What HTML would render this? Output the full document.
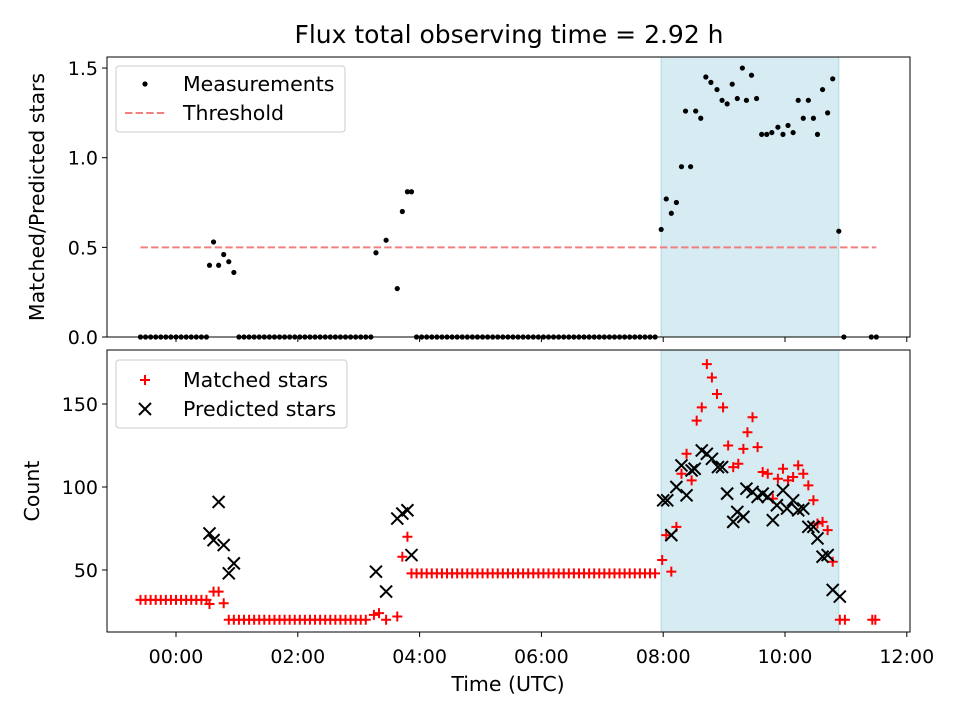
<!DOCTYPE html>
<html><head><meta charset="utf-8"><style>
body{margin:0;background:#fff}
svg{display:block;font-family:"DejaVu Sans","Liberation Sans",sans-serif}
</style></head><body>
<svg id="chart" width="960" height="720" xmlns="http://www.w3.org/2000/svg"></svg>
<script>
// times in minutes from 00:00 UTC
const topTimes = [-35,-30,-25,-20,-15,-10,-5,0,5,10,15,20,25,30,
 33,37,42,47,52,57,
 62,67,72,77,82,87,92,97,102,107,112,117,122,127,132,137,142,147,152,157,162,167,172,177,182,187,192,
 197,207,218,223,228,232,
 237,242,247,252,257,262,267,272,277,282,287,292,297,302,307,312,317,322,327,332,337,342,347,352,357,362,367,372,377,382,387,392,397,402,407,412,417,422,427,432,437,442,447,452,457,462,467,472,
 478,483,488,493,498,502,507,512,517,522,527,533,538,543,548,553,558,562,567,572,577,582,587,593,598,603,608,613,618,623,628,632,637,642,647,653,
 658,685,690];
const topValues = [0,0,0,0,0,0,0,0,0,0,0,0,0,0,
 0.40,0.53,0.40,0.46,0.42,0.36,
 0,0,0,0,0,0,0,0,0,0,0,0,0,0,0,0,0,0,0,0,0,0,0,0,0,0,0,
 0.47,0.54,0.27,0.70,0.81,0.81,
 0,0,0,0,0,0,0,0,0,0,0,0,0,0,0,0,0,0,0,0,0,0,0,0,0,0,0,0,0,0,0,0,0,0,0,0,0,0,0,0,0,0,0,0,0,0,0,0,
 0.60,0.77,0.69,0.75,0.95,1.26,0.95,1.26,1.22,1.45,1.42,1.38,1.32,1.30,1.41,1.33,1.50,1.32,1.46,1.33,1.13,1.13,1.14,1.17,1.13,1.18,1.14,1.32,1.22,1.32,1.22,1.13,1.38,1.25,1.44,0.59,
 0,0,0];
const matchedTimes = [-35,-30,-25,-20,-15,-10,-5,0,5,10,15,20,25,30,
 33,37,42,47,
 52,57,62,67,72,77,82,87,92,97,102,107,112,117,122,127,132,137,142,147,152,157,162,167,172,177,182,187,
 195,200,207,218,223,228,
 232,237,242,247,252,257,262,267,272,277,282,287,292,297,302,307,312,317,322,327,332,337,342,347,352,357,362,367,372,377,382,387,392,397,402,407,412,417,422,427,432,437,442,447,452,457,462,467,472,
 479,483,488,493,498,503,508,513,518,523,528,533,539,544,549,554,559,563,568,573,578,583,588,593,598,603,608,613,618,623,628,632,637,642,647,654,659,686,689];
const matchedValues = [32,32,32,32,32,32,32,32,32,32,32,32,32,32,
 29.5,37,37,30,
 20,20,20,20,20,20,20,20,20,20,20,20,20,20,20,20,20,20,20,20,20,20,20,20,20,20,20,20,
 23,24,20,22,58,70,
 48,48,48,48,48,48,48,48,48,48,48,48,48,48,48,48,48,48,48,48,48,48,48,48,48,48,48,48,48,48,48,48,48,48,48,48,48,48,48,48,48,48,48,48,48,48,48,48,48,
 56,71,49,76,108,120,104,140,148,174,166,156,148,125,112,114,123,133,142,124,109,108,93,105,111,104,106,113,108,101,92,78,79,74,55,20,20,20,20];
const predictedTimes = [33,37,42,47,52,57,197,207,218,223,228,232,
 480,484,488,493,498,503,508,511,518,523,528,534,538,543,549,553,559,562,568,573,578,583,588,592,598,602,608,613,618,623,628,632,637,642,647,654];
const predictedValues = [72,68,91,65,48,54,49,37,81,84,86,59,
 92,92,71,100,113,95,110,111,122,120,117,112,112,96,79,85,82,99,97,94,96,94,80,89,98,87,92,86,87,76,76,69,58,59,38,34];
const xTickLabels = ["00:00","02:00","04:00","06:00","08:00","10:00","12:00"];
const xTickValues = [0,120,240,360,480,600,720];
const topTickValues = [0,0.5,1.0,1.5];
const topTickLabels = ["0.0","0.5","1.0","1.5"];
const botTickValues = [50,100,150];
const botTickLabels = ["50","100","150"];
const threshold = 0.5;
const thresholdRange = [-35,690];
const shadeRange = [478,653];

const NS="http://www.w3.org/2000/svg";
const svg=document.getElementById('chart');
const L=107,R=910;
const xS=m=>176+(m/60)*60.9;
const yTop=v=>337-v*179.3;
const yBot=v=>570-(v-50)*1.66;
function mk(tag,attrs,parent){const e=document.createElementNS(NS,tag);for(const k in attrs)e.setAttribute(k,attrs[k]);(parent||svg).appendChild(e);return e;}

function panel(name,top,bottom){
  const g=mk('g',{});
  
  
  const sh=mk('rect',{x:xS(shadeRange[0]),y:top,width:xS(shadeRange[1])-xS(shadeRange[0]),height:bottom-top,fill:'#add8e6','fill-opacity':0.5,stroke:'#add8e6'},g);
  
  
  return g;
}
function frame(g,top,bottom){
  const f=mk('rect',{x:L,y:top,width:R-L,height:bottom-top,fill:'none',stroke:'#000','stroke-width':1},g);
  
  
  xTickValues.forEach((v,i)=>{
    const t=mk('line',{x1:xS(v),x2:xS(v),y1:bottom,y2:bottom+5,stroke:'#000'},g);
    
    
  });
}
// top panel
const gT=panel('top-panel',57,337);
const th=mk('line',{x1:xS(thresholdRange[0]),x2:xS(thresholdRange[1]),y1:yTop(threshold),y2:yTop(threshold),stroke:'#f08080','stroke-width':2,'stroke-dasharray':'7.4,3.2'},gT);


topTimes.forEach((t,i)=>{
  const c=mk('circle',{cx:xS(t),cy:yTop(topValues[i]),r:2.6,fill:'#000'},gT);
  
  
});
frame(gT,57,337);
topTickValues.forEach((v,i)=>{
  const t=mk('line',{x1:L-5,x2:L,y1:yTop(v),y2:yTop(v),stroke:'#000'},gT);
  
  
  const tx=mk('text',{x:L-9,y:yTop(v)+7,'text-anchor':'end','font-size':19},gT);
  tx.textContent=topTickLabels[i];
  
  
});
// bottom panel
const gB=panel('bottom-panel',350,632);
function plus(x,y,g){const p=mk('path',{d:`M${x-5},${y}H${x+5}M${x},${y-5}V${y+5}`,stroke:'#f00','stroke-width':2,fill:'none'},g);return p;}
function cross(x,y,g){const p=mk('path',{d:`M${x-6},${y-6}L${x+6},${y+6}M${x-6},${y+6}L${x+6},${y-6}`,stroke:'#000','stroke-width':2,fill:'none'},g);return p;}
matchedTimes.forEach((t,i)=>{
  const p=plus(xS(t),yBot(matchedValues[i]),gB);
  
  
});
predictedTimes.forEach((t,i)=>{
  const p=cross(xS(t),yBot(predictedValues[i]),gB);
  
  
});
frame(gB,350,632);
botTickValues.forEach((v,i)=>{
  const t=mk('line',{x1:L-5,x2:L,y1:yBot(v),y2:yBot(v),stroke:'#000'},gB);
  
  
  const tx=mk('text',{x:L-9,y:yBot(v)+7,'text-anchor':'end','font-size':19},gB);
  tx.textContent=botTickLabels[i];
  
  
});
xTickValues.forEach((v,i)=>{
  const tx=mk('text',{x:xS(v),y:663,'text-anchor':'middle','font-size':19},gB);
  tx.textContent=xTickLabels[i];
  
  
});
</script>
<svg style="position:absolute;left:0;top:0" width="960" height="720" xmlns="http://www.w3.org/2000/svg" font-family="DejaVu Sans, Liberation Sans, sans-serif">
  <text x="509" y="43" text-anchor="middle" font-size="25">Flux total observing time = 2.92 h</text>
  <text transform="translate(44,197) rotate(-90)" text-anchor="middle" font-size="20.5">Matched/Predicted stars</text>
  <text transform="translate(39,491) rotate(-90)" text-anchor="middle" font-size="20.5">Count</text>
  <text x="508" y="691" text-anchor="middle" font-size="20.5">Time (UTC)</text>
  <g>
    <rect x="116" y="66" width="229" height="66" rx="3" fill="#fff" fill-opacity="0.8" stroke="#ccc"/>
    <circle cx="145" cy="84" r="2.6" fill="#000"/>
    <text x="183" y="91" font-size="20.5">Measurements</text>
    <line x1="125" x2="165" y1="113" y2="113" stroke="#f08080" stroke-width="2" stroke-dasharray="7.4,3.2"/>
    <text x="183" y="120" font-size="20.5">Threshold</text>
  </g>
  <g>
    <rect x="116" y="360" width="231" height="68" rx="3" fill="#fff" fill-opacity="0.8" stroke="#ccc"/>
    <path d="M140,380H150M145,375V385" stroke="#f00" stroke-width="2"/>
    <text x="183" y="387" font-size="20.5">Matched stars</text>
    <path d="M139,403L151,415M139,415L151,403" stroke="#000" stroke-width="2"/>
    <text x="183" y="416" font-size="20.5">Predicted stars</text>
  </g>
</svg>
</body></html>
